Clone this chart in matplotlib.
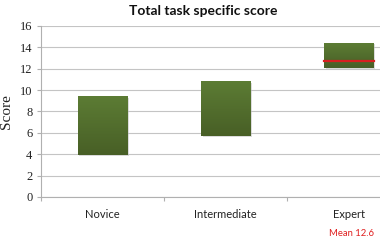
import matplotlib
matplotlib.use("Agg")
import matplotlib.pyplot as plt
import numpy as np
from matplotlib.colors import LinearSegmentedColormap

categories = ["Novice", "Intermediate", "Expert"]
low = [3.9, 5.75, 12.1]
high = [9.4, 10.8, 14.4]
mean_expert = 12.75
yticks = [0, 2, 4, 6, 8, 10, 12, 14, 16]

fig = plt.figure(figsize=(3.8, 2.42), dpi=100)
ax = fig.add_axes([0.107, 0.186, 0.893, 0.707])
ax.set_xlim(0, 2.75)
ax.set_ylim(0, 16)

cmap = LinearSegmentedColormap.from_list("g", ["#485f26", "#5c7c34"])
grad = np.linspace(0, 1, 100).reshape(-1, 1)
xs = np.arange(len(categories)) + 0.5
w = 0.40
for x, lo, hi in zip(xs, low, high):
    ax.bar(x + 0.012, hi - lo, w, bottom=lo - 0.1, color="#bbbbbb", alpha=0.5, zorder=2, linewidth=0)
    ax.imshow(grad, extent=(x - w / 2, x + w / 2, lo, hi), origin="lower", cmap=cmap,
              aspect="auto", zorder=3)
ax.set_xlim(0, 2.75)
ax.set_ylim(0, 16)

ax.plot([xs[2] - w / 2, xs[2] + w / 2], [mean_expert, mean_expert], color="#d81f1f", lw=1.6, zorder=4)

ax.set_yticks(yticks)
ax.set_yticklabels([str(t) for t in yticks], family="Liberation Serif", fontsize=9, color="#222222")
ax.yaxis.grid(True, color="#c4c4c4", lw=0.8)
ax.set_axisbelow(True)
ax.set_xticks([0, 1, 2])
ax.set_xticklabels([])
ax.set_xticks(xs, minor=True)
ax.set_xticklabels(categories, minor=True, family="Lato", fontsize=8, color="#222222")
ax.tick_params(axis="x", which="minor", length=0, pad=9)
ax.tick_params(axis="x", which="major", length=3, color="#b0b0b0", direction="out")
ax.tick_params(axis="y", length=3, color="#b0b0b0", pad=3)
for s in ["top", "right"]:
    ax.spines[s].set_visible(False)
ax.spines["left"].set_color("#b0b0b0")
ax.spines["bottom"].set_color("#b0b0b0")

ax.set_ylabel("Score", family="Liberation Serif", fontsize=11, color="#222222", labelpad=5)
fig.text(0.535, 0.955, "Total task specific score", ha="center", va="center",
         family="Lato", fontweight="bold", fontsize=10, color="#111111")
fig.text(0.925, 0.035, "Mean 12.6", ha="center", va="center", family="Lato",
         fontsize=6.8, color="#e02020")

fig.savefig("out.png", dpi=100)
